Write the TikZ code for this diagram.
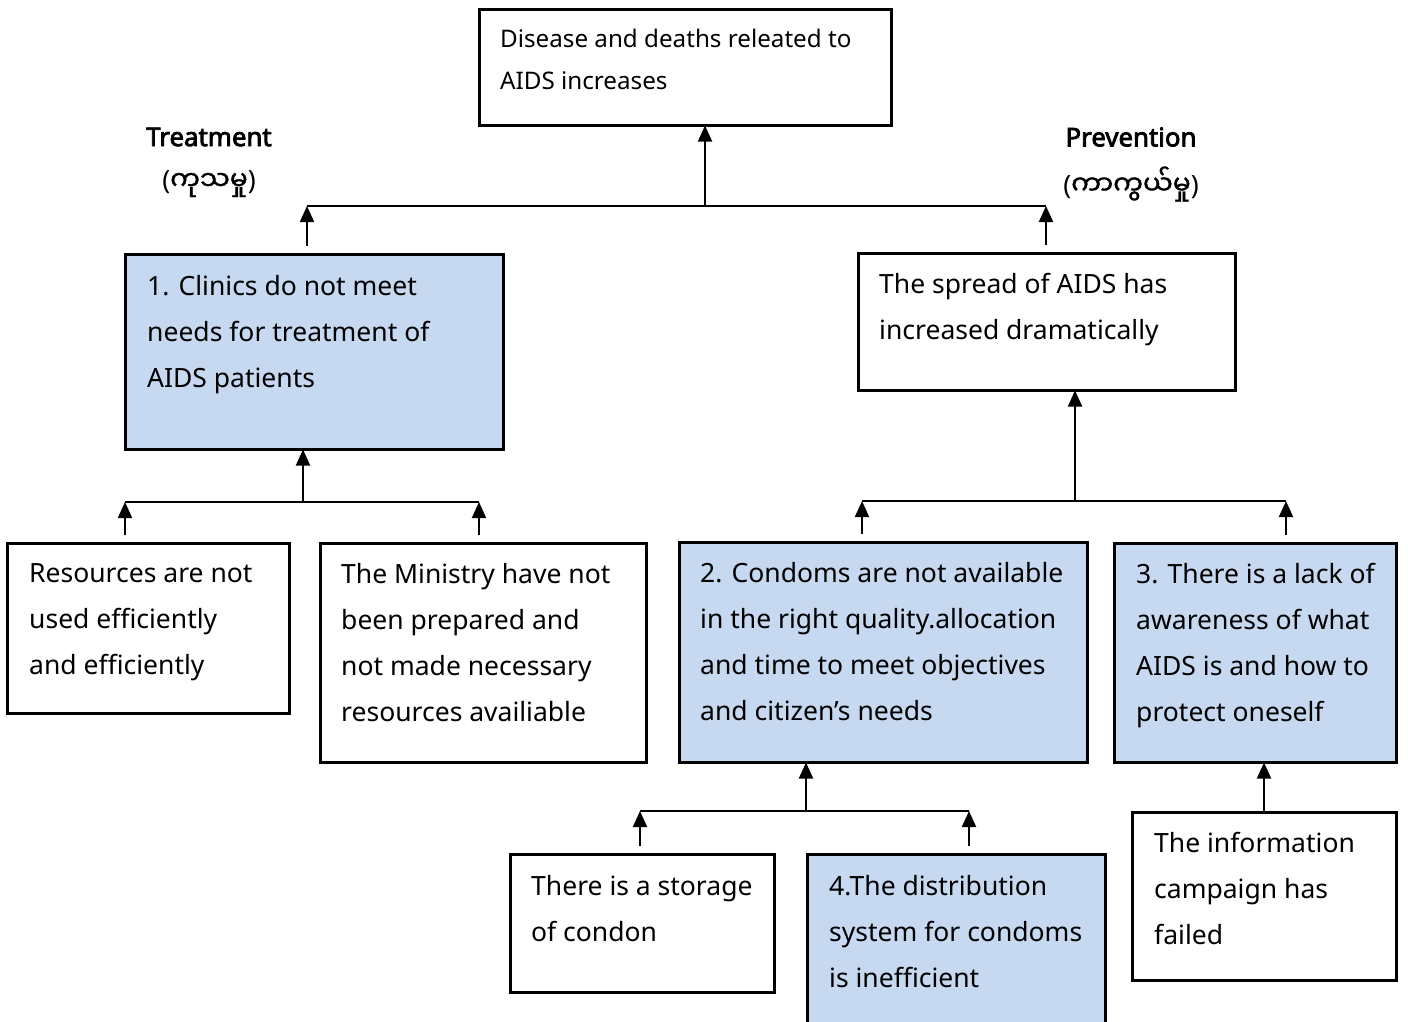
\documentclass[tikz,border=0pt]{standalone}
\usepackage{fontspec}
\setmainfont{Noto Sans}
\newfontfamily\headfont{Noto Sans}[FakeBold=3]
\newfontfamily\myanmarfont[Script=Myanmar,FakeBold=1.2]{Noto Sans Myanmar UI}
\usetikzlibrary{arrows.meta}
\definecolor{boxblue}{HTML}{C6D9F0}

\begin{document}
\begin{tikzpicture}[x=1pt,y=-1pt,
  box/.style={draw=black, line width=3pt, fill=white, anchor=north west, inner sep=0pt, outer sep=0pt},
  bluebox/.style={box, fill=boxblue},
  txt/.style={anchor=north west, inner sep=0pt, align=left, font=\fontsize{26.5}{46}\selectfont},
  toptxt/.style={txt, font=\fontsize{24.2}{42}\selectfont},
  head/.style={inner sep=0pt, font=\fontsize{25.8}{30}\headfont},
  sub/.style={inner sep=0pt, font=\fontsize{26.5}{30}\selectfont},
  link/.style={line width=2pt},
  up/.style={line width=2pt, -{Triangle[width=14pt,length=16pt]}}]

\useasboundingbox (0,0) rectangle (1408,1021);
\clip (0,0) rectangle (1408,1021);

% ---- boxes
\node[box, minimum width=412pt, minimum height=116pt] (top) at (479.5,9.5) {};
\node[bluebox, minimum width=378pt, minimum height=195pt] (clin) at (125.5,254.5) {};
\node[box, minimum width=377pt, minimum height=137pt] (spread) at (858.5,253.5) {};
\node[box, minimum width=282pt, minimum height=170pt] (res) at (7.5,543.5) {};
\node[box, minimum width=326pt, minimum height=219pt] (mins) at (320.5,543.5) {};
\node[bluebox, minimum width=408pt, minimum height=220pt] (cond) at (679.5,542.5) {};
\node[bluebox, minimum width=282pt, minimum height=219pt] (aware) at (1114.5,543.5) {};
\node[box, minimum width=264pt, minimum height=138pt] (stor) at (510.5,854.5) {};
\node[bluebox, minimum width=298pt, minimum height=220pt] (dist) at (807.5,854.5) {};
\node[box, minimum width=264pt, minimum height=168pt] (info) at (1132.5,812.5) {};

% ---- box texts
\node[toptxt] (ttop) at (500,29) {Disease and deaths releated to\\AIDS increases};
\node[txt] (tclin) at (147,275) {1. Clinics do not meet\\needs for treatment of\\AIDS patients};
\node[txt] (tspread) at (879,273) {The spread of AIDS has\\increased dramatically};
\node[txt] (tres) at (29,563) {Resources are not\\used efficiently\\and efficiently};
\node[txt] (tmins) at (341,563) {The Ministry have not\\been prepared and\\not made necessary\\resources availiable};
\node[txt] (tcond) at (700,562) {2. Condoms are not available\\in the right quality.allocation\\and time to meet objectives\\and citizen’s needs};
\node[txt] (taware) at (1136,563) {3. There is a lack of\\awareness of what\\AIDS is and how to\\protect oneself};
\node[txt] (tstor) at (531,875) {There is a storage\\of condon};
\node[txt] (tdist) at (829,875) {4.The distribution\\system for condoms\\is inefficient};
\node[txt] (tinfo) at (1154,832) {The information\\campaign has\\failed};

% ---- branch headings
\node[head] (treat) at (209,137) {Treatment};
\node[sub] (treatmy) at (209,184) {(\myanmarfont ကုသမှု\rmfamily)};
\node[head] (prev) at (1131,137) {Prevention};
\node[sub] (prevmy) at (1131,184) {(\myanmarfont ကာကွယ်မှု\rmfamily)};

% ---- junction points
\coordinate (jtop) at (705,206);
\coordinate (jtl) at (307,206);
\coordinate (jtr) at (1046,206);
\coordinate (jcl) at (303,502);
\coordinate (jcll) at (125,502);
\coordinate (jclr) at (479,502);
\coordinate (jsp) at (1075,501);
\coordinate (jspl) at (862,501);
\coordinate (jspr) at (1286,501);
\coordinate (jco) at (806,811);
\coordinate (jcol) at (640,811);
\coordinate (jcor) at (969,811);
\coordinate (jinfo) at (1264,811);

% ---- connectors
\draw[up] (jtop) -- (jtop |- top.south);
\draw[link] (jtl) -- (jtr);
\draw[up] ([yshift=9pt]jtl |- clin.north) -- (jtl);
\draw[up] ([yshift=9pt]jtr |- spread.north) -- (jtr);

\draw[up] (jcl) -- (jcl |- clin.south);
\draw[link] (jcll) -- (jclr);
\draw[up] ([yshift=9pt]jcll |- res.north) -- (jcll);
\draw[up] ([yshift=9pt]jclr |- mins.north) -- (jclr);

\draw[up] (jsp) -- (jsp |- spread.south);
\draw[link] (jspl) -- (jspr);
\draw[up] ([yshift=9pt]jspl |- cond.north) -- (jspl);
\draw[up] ([yshift=9pt]jspr |- aware.north) -- (jspr);

\draw[up] (jco) -- (jco |- cond.south);
\draw[link] (jcol) -- (jcor);
\draw[up] ([yshift=9pt]jcol |- stor.north) -- (jcol);
\draw[up] ([yshift=9pt]jcor |- dist.north) -- (jcor);

\draw[up] (jinfo |- info.north) -- (jinfo |- aware.south);
\end{tikzpicture}
\end{document}
